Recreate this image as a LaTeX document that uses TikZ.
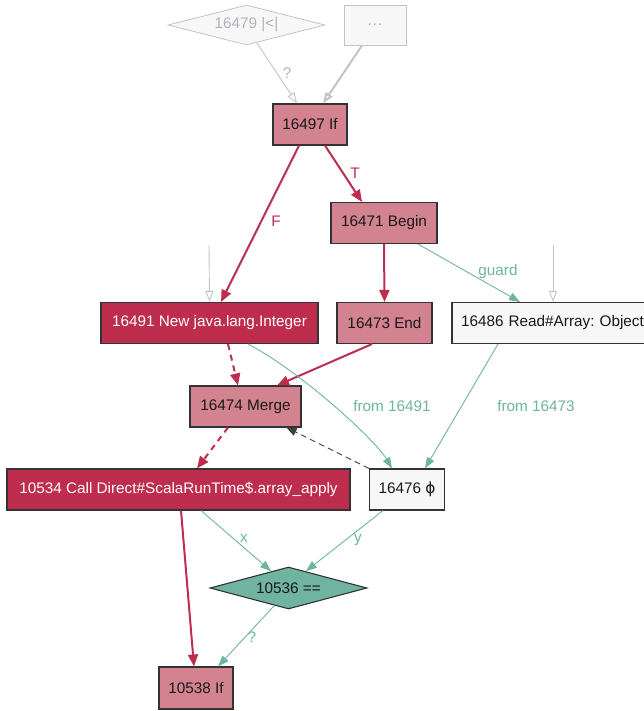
\documentclass[tikz,border=0pt]{standalone}
\usepackage{fontspec}
\setmainfont{Liberation Sans}
\newfontfamily\phifont{DejaVu Sans}
\usepackage{xcolor}
\usetikzlibrary{positioning,shapes.geometric,arrows.meta}
\definecolor{rose}{RGB}{211,130,143}
\definecolor{crim}{RGB}{190,45,78}
\definecolor{teal}{RGB}{111,179,160}
\definecolor{ghost}{RGB}{176,180,186}
\definecolor{ghostline}{RGB}{192,196,201}
\definecolor{paper}{RGB}{247,247,247}
\frenchspacing

\begin{document}
\begin{tikzpicture}[x=1pt,y=-1pt,font=\fontsize{15.3}{17}\selectfont]
    \tikzstyle{box} = [rectangle, draw=black!80, line width=1.1pt,
    minimum height=41pt, inner xsep=9pt, text=black!90]
    \tikzstyle{ctl} = [box, fill=rose] \tikzstyle{hot} = [box,
    fill=crim, text=white] \tikzstyle{val} = [box, fill=paper]
    \tikzstyle{ghostbox} = [rectangle, draw=ghostline, line width=0.8pt,
    fill=paper, text=ghost, minimum height=40pt]
    \tikzstyle{cflow} = [crim, line width=2pt,
    -{Triangle[length=12pt,width=10pt]}]
    \tikzstyle{dflow} = [teal, line width=0.9pt,
    -{Triangle[length=11pt,width=8pt]}]
    \tikzstyle{gflow} = [ghostline, line width=0.9pt,
    -{Triangle[open,length=11pt,width=8pt]}]
    \tikzstyle{lbl} = [inner sep=1pt]
    \clip (0,0) rectangle (644,711);
    % upper part
    \node[ghostbox, diamond, aspect=3.9, minimum width=157pt,
    minimum height=40pt, inner sep=0pt] (lt) at (246.5,25) {16479 |<|};
    \node[ghostbox, minimum width=62pt] (more) at (375,25) {.\kern1pt.\kern1pt.};
    \node[ctl, minimum width=74pt] (if) at (310,124.5) {16497 If};
    \node[ctl, minimum width=106pt] (begin) at (384,223) {16471 Begin};
    \node[hot, minimum width=217pt] (newint) at (209.5,323) {16491 New
    java.lang.Integer}; \node[ctl, minimum width=95pt] (endn) at
    (384.5,323) {16473 End}; \node[val, minimum width=202pt,
    text width=184pt, align=left] (read) at (553,323) {16486 Read\#Array:
    Object};
    % lower part
    \node[ctl, minimum width=111pt] (merge) at (245.5,406.5) {16474 Merge};
    \node[hot, minimum width=343pt] (call) at (178.5,489.5) {10534 Call
    Direct\#ScalaRunTime\$.array\_apply}; \node[val, minimum width=74pt]
    (phi) at (407,489.5) {16476 {\phifont ϕ}};
    \node[box, diamond, aspect=3.75, fill=teal, minimum width=157pt,
    minimum height=42pt, inner sep=0pt] (eq) at (288.5,588) {10536 ==};
    \node[ctl, minimum width=74pt, minimum height=42pt] (if2) at
    (196,688) {10538 If};
    \coordinate (s1) at (209,245); \coordinate (s2) at (553,245);
    % edges
    \draw[gflow] (lt.-60) -- ([xshift=-13pt]if.north);
    \draw[gflow, line width=2pt] ([xshift=-13pt]more.south) --
    ([xshift=13pt]if.north); \draw[cflow] ([xshift=-11pt]if.south) --
    ([xshift=11.5pt]newint.north); \draw[cflow] ([xshift=15pt]if.south)
    -- ([xshift=-22pt]begin.north); \draw[cflow] (begin.south) --
    (endn.north); \draw[dflow] ([xshift=34pt]begin.south) --
    ([xshift=-33pt]read.north); \draw[gflow] (s1) -- (newint.north);
    \draw[gflow] (s2) -- (read.north);
    \draw[cflow, dash pattern=on 6pt off 5pt] ([xshift=18.5pt]newint.south)
    -- ([xshift=-7.5pt]merge.north); \draw[cflow]
    ([xshift=-12.5pt]endn.south) -- ([xshift=31.5pt]merge.north);
    \draw[dflow] ([xshift=38.5pt]newint.south) .. controls +(52,27) and
    +(-17,-29) .. ([xshift=-15pt]phi.north); \draw[dflow]
    ([xshift=-55pt]read.south) -- ([xshift=18pt]phi.north);
    \draw[black!75, line width=0.9pt, dash pattern=on 6pt off 4pt,
    -{Triangle[length=10pt,width=8pt]}] (phi.north west) --
    ([xshift=-15pt]merge.south east);
    \draw[cflow, dash pattern=on 6pt off 5pt] ([xshift=-17.5pt]merge.south)
    -- ([xshift=18.5pt]call.north); \draw[cflow]
    ([xshift=2.5pt]call.south) -- ([xshift=-2pt]if2.north);
    \draw[dflow] ([xshift=22.5pt]call.south) -- (eq.136); \draw[dflow]
    ([xshift=-24pt]phi.south) -- (eq.44); \draw[dflow] (eq.-129) --
    ([xshift=22pt]if2.north);
    % labels
    \node[lbl, text=ghost] (lq) at (287,73) {?}; \node[lbl, text=crim]
    (lf) at (276,221) {F}; \node[lbl, text=crim] (lt2) at (355,173) {T};
    \node[lbl, text=teal] (lg) at (498,272) {guard}; \node[lbl,
    text=teal] (lfa) at (392,406) {from 16491}; \node[lbl, text=teal]
    (lfb) at (536,406) {from 16473}; \node[lbl, text=teal] (lx) at
    (244,538) {x}; \node[lbl, text=teal] (ly) at (358,540) {y};
    \node[lbl, text=teal] (lq2) at (252,637) {?};
\end{tikzpicture}
\end{document}
